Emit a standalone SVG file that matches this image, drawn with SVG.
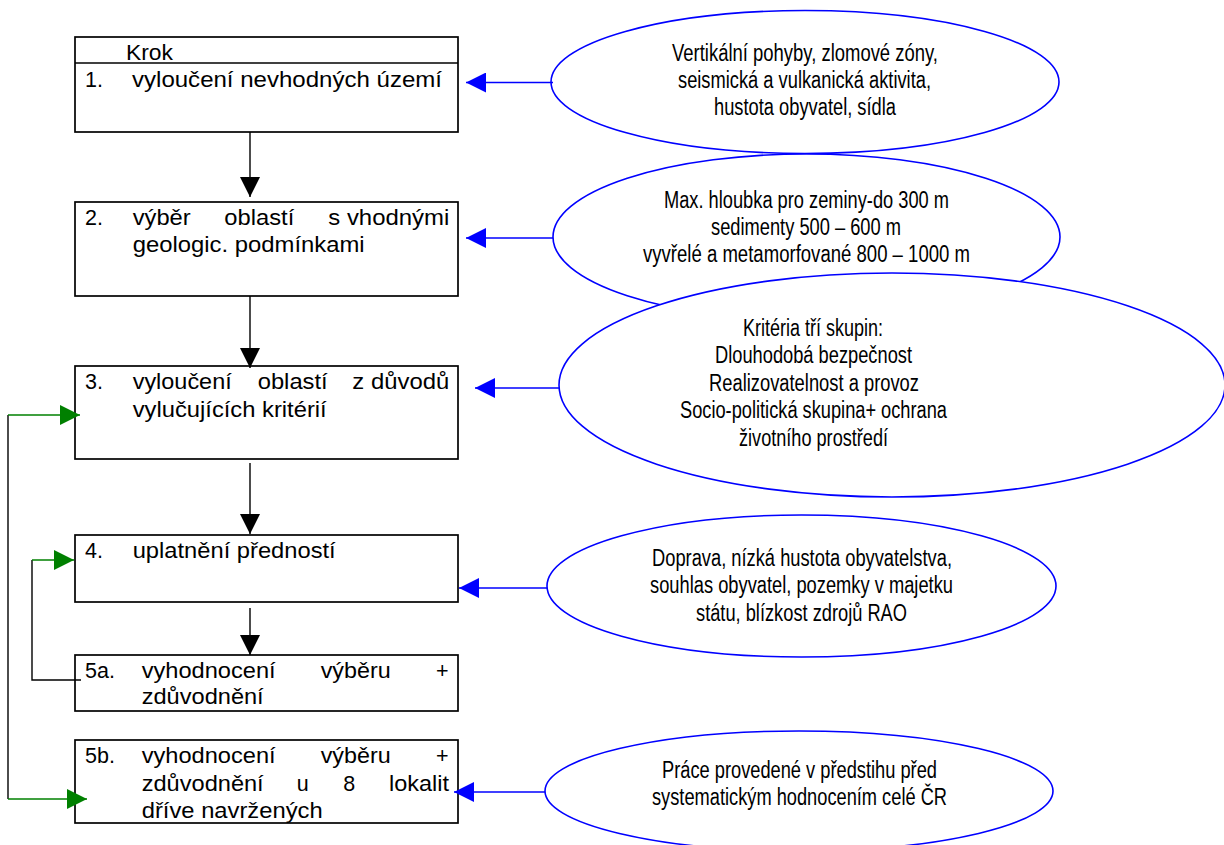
<svg xmlns="http://www.w3.org/2000/svg" width="1224" height="845" viewBox="0 0 1224 845">
<style>
.box{fill:#fff;stroke:#000;stroke-width:1.7}
.ell{fill:#fff;stroke:#0000ff;stroke-width:1.6}
.bt{font-family:"Liberation Sans",Arial,sans-serif;font-size:21.5px;fill:#000}
.et{font-family:"Liberation Sans",Arial,sans-serif;font-size:23px;fill:#000}
.k{stroke:#000;stroke-width:1.4;fill:none}
.g{stroke:#008000;stroke-width:1.4;fill:none}
.b{stroke:#0000ff;stroke-width:1.4;fill:none}
</style>
<defs>
<marker id="ak" markerUnits="userSpaceOnUse" markerWidth="20" markerHeight="20" refX="20" refY="10" orient="auto"><path d="M0,0 L20,10 L0,20 z" fill="#000"/></marker>
<marker id="ag" markerUnits="userSpaceOnUse" markerWidth="20" markerHeight="20" refX="20" refY="10" orient="auto"><path d="M0,0 L20,10 L0,20 z" fill="#008000"/></marker>
<marker id="ab" markerUnits="userSpaceOnUse" markerWidth="20" markerHeight="20" refX="20" refY="10" orient="auto"><path d="M0,0 L20,10 L0,20 z" fill="#0000ff"/></marker>
</defs>
<rect width="1224" height="845" fill="#fff"/>

<g id="e1"><ellipse class="ell" cx="805" cy="82" rx="254" ry="71.5"/>
<text class="et" x="672" y="61" textLength="266" lengthAdjust="spacingAndGlyphs">Vertikální pohyby, zlomové zóny,</text>
<text class="et" x="678" y="88" textLength="253" lengthAdjust="spacingAndGlyphs">seismická a vulkanická aktivita,</text>
<text class="et" x="714" y="115" textLength="182" lengthAdjust="spacingAndGlyphs">hustota obyvatel, sídla</text></g>

<g id="e2"><ellipse class="ell" cx="806.5" cy="237" rx="253.5" ry="83"/>
<text class="et" x="664" y="208" textLength="285" lengthAdjust="spacingAndGlyphs">Max. hloubka pro zeminy-do 300 m</text>
<text class="et" x="711" y="235" textLength="190" lengthAdjust="spacingAndGlyphs">sedimenty 500 – 600 m</text>
<text class="et" x="643" y="262" textLength="327" lengthAdjust="spacingAndGlyphs">vyvřelé a metamorfované  800 – 1000 m</text></g>

<g id="e3"><ellipse class="ell" cx="892" cy="385" rx="333" ry="112"/>
<text class="et" x="743" y="336" textLength="140" lengthAdjust="spacingAndGlyphs">Kritéria tří skupin:</text>
<text class="et" x="715" y="363" textLength="197" lengthAdjust="spacingAndGlyphs">Dlouhodobá bezpečnost</text>
<text class="et" x="709" y="391" textLength="210" lengthAdjust="spacingAndGlyphs">Realizovatelnost a provoz</text>
<text class="et" x="680" y="418" textLength="267" lengthAdjust="spacingAndGlyphs">Socio-politická skupina+ ochrana</text>
<text class="et" x="739" y="445.5" textLength="149" lengthAdjust="spacingAndGlyphs">životního prostředí</text></g>

<g id="e4"><ellipse class="ell" cx="801.5" cy="586" rx="254.5" ry="71"/>
<text class="et" x="652" y="566" textLength="300" lengthAdjust="spacingAndGlyphs">Doprava, nízká hustota obyvatelstva,</text>
<text class="et" x="650" y="593" textLength="303" lengthAdjust="spacingAndGlyphs">souhlas obyvatel, pozemky v majetku</text>
<text class="et" x="696" y="620.5" textLength="211" lengthAdjust="spacingAndGlyphs">státu, blízkost zdrojů RAO</text></g>

<g id="e5"><ellipse class="ell" cx="799" cy="791" rx="254" ry="60"/>
<text class="et" x="662" y="778" textLength="275" lengthAdjust="spacingAndGlyphs">Práce provedené v předstihu před</text>
<text class="et" x="652" y="805" textLength="295" lengthAdjust="spacingAndGlyphs">systematickým hodnocením celé ČR</text></g>

<g id="s1"><rect class="box" x="75" y="37" width="383" height="95"/>
<line class="k" x1="75" y1="63" x2="458" y2="63" stroke-width="1.7"/>
<text class="bt" x="126" y="60" textLength="47" lengthAdjust="spacingAndGlyphs">Krok</text>
<text class="bt" x="85" y="87">1.</text>
<text class="bt" x="132" y="87" textLength="310" lengthAdjust="spacingAndGlyphs">vyloučení nevhodných území</text></g>

<g id="s2"><rect class="box" x="75" y="202" width="383" height="94"/>
<text class="bt" x="85" y="225">2.</text>
<text class="bt" x="132.7" y="225" textLength="58" lengthAdjust="spacingAndGlyphs">výběr</text>
<text class="bt" x="224.3" y="225" textLength="70" lengthAdjust="spacingAndGlyphs">oblastí</text>
<text class="bt" x="328.3" y="225" textLength="121" lengthAdjust="spacingAndGlyphs">s vhodnými</text>
<text class="bt" x="132.7" y="252" textLength="232" lengthAdjust="spacingAndGlyphs">geologic. podmínkami</text></g>

<g id="s3"><rect class="box" x="75" y="366" width="383" height="93"/>
<text class="bt" x="85" y="389">3.</text>
<text class="bt" x="132.7" y="389" textLength="99" lengthAdjust="spacingAndGlyphs">vyloučení</text>
<text class="bt" x="257.7" y="389" textLength="70" lengthAdjust="spacingAndGlyphs">oblastí</text>
<text class="bt" x="352.3" y="389" textLength="97" lengthAdjust="spacingAndGlyphs">z důvodů</text>
<text class="bt" x="132.7" y="416.5" textLength="194" lengthAdjust="spacingAndGlyphs">vylučujících kritérií</text></g>

<g id="s4"><rect class="box" x="75" y="535" width="383" height="67"/>
<text class="bt" x="85" y="557.5">4.</text>
<text class="bt" x="132.7" y="557.5" textLength="203" lengthAdjust="spacingAndGlyphs">uplatnění předností</text></g>

<g id="s5a"><rect class="box" x="75" y="655" width="383" height="56"/>
<text class="bt" x="85" y="677.5">5a.</text>
<text class="bt" x="141.7" y="677.5" textLength="134" lengthAdjust="spacingAndGlyphs">vyhodnocení</text>
<text class="bt" x="320.7" y="677.5" textLength="70" lengthAdjust="spacingAndGlyphs">výběru</text>
<text class="bt" x="436" y="677.5">+</text>
<text class="bt" x="141.7" y="704" textLength="122" lengthAdjust="spacingAndGlyphs">zdůvodnění</text></g>

<g id="s5b"><rect class="box" x="75" y="740" width="383" height="83"/>
<text class="bt" x="85" y="762.5">5b.</text>
<text class="bt" x="141.7" y="762.5" textLength="134" lengthAdjust="spacingAndGlyphs">vyhodnocení</text>
<text class="bt" x="320.7" y="762.5" textLength="70" lengthAdjust="spacingAndGlyphs">výběru</text>
<text class="bt" x="436" y="762.5">+</text>
<text class="bt" x="141.7" y="790.5" textLength="122" lengthAdjust="spacingAndGlyphs">zdůvodnění</text>
<text class="bt" x="296.7" y="790.5">u</text>
<text class="bt" x="343.3" y="790.5">8</text>
<text class="bt" x="389" y="790.5" textLength="60" lengthAdjust="spacingAndGlyphs">lokalit</text>
<text class="bt" x="141.7" y="817.5" textLength="181" lengthAdjust="spacingAndGlyphs">dříve navržených</text></g>

<g id="connectors">
<line class="k" x1="250" y1="132" x2="250" y2="197" marker-end="url(#ak)"/>
<line class="k" x1="250" y1="296" x2="250" y2="368" marker-end="url(#ak)"/>
<line class="k" x1="250" y1="463" x2="250" y2="534" marker-end="url(#ak)"/>
<line class="k" x1="250" y1="608" x2="250" y2="655" marker-end="url(#ak)"/>
<polyline class="k" points="8,415 8,799"/>
<line class="g" x1="8" y1="415" x2="80" y2="415" marker-end="url(#ag)"/>
<line class="g" x1="8" y1="799" x2="87" y2="799" marker-end="url(#ag)"/>
<polyline class="k" points="81,680 32,680 32,560"/>
<line class="g" x1="32" y1="560" x2="74" y2="560" marker-end="url(#ag)"/>
<line class="b" x1="553" y1="82.5" x2="466" y2="82.5" marker-end="url(#ab)"/>
<line class="b" x1="553" y1="238" x2="466" y2="238" marker-end="url(#ab)"/>
<line class="b" x1="559" y1="388" x2="475" y2="388" marker-end="url(#ab)"/>
<line class="b" x1="547" y1="588" x2="459" y2="588" marker-end="url(#ab)"/>
<line class="b" x1="545" y1="792" x2="454" y2="792" marker-end="url(#ab)"/>
</g>
</svg>
